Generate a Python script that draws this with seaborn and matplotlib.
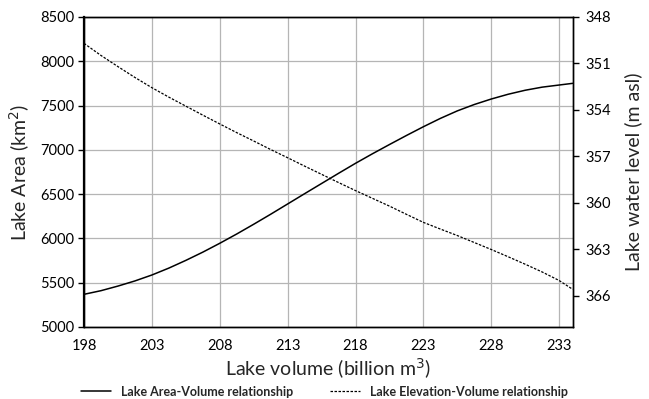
import matplotlib
matplotlib.use("Agg")
import matplotlib.pyplot as plt
import seaborn as sns
import pandas as pd
from matplotlib.lines import Line2D

volume = [198, 199.25, 200.5, 201.75, 203, 204.25, 205.5, 206.75, 208, 209.25, 210.5, 211.75,
          213, 214.25, 215.5, 216.75, 218, 219.25, 220.5, 221.75, 223, 224.25, 225.5, 226.75,
          228, 229.25, 230.5, 231.75, 233, 234]
area = [5369, 5410, 5462, 5520, 5587, 5665, 5752, 5845, 5945, 6050, 6160, 6273,
        6389, 6505, 6620, 6735, 6848, 6956, 7060, 7162, 7261, 7355, 7440, 7512,
        7574, 7628, 7673, 7708, 7732, 7751]
elevation = [349.7, 350.48, 351.2, 351.9, 352.56, 353.17, 353.75, 354.33, 354.9, 355.46, 356.0, 356.55,
             357.08, 357.62, 358.15, 358.68, 359.2, 359.7, 360.2, 360.73, 361.25, 361.68, 362.1, 362.55,
             363.0, 363.47, 363.95, 364.45, 365.0, 365.57]

xticks = [198, 203, 208, 213, 218, 223, 228, 233]
yticks_left = [5000, 5500, 6000, 6500, 7000, 7500, 8000, 8500]
yticks_right = [348, 351, 354, 357, 360, 363, 366]

sns.set_style("white")
plt.rcParams['font.family'] = ['Lato', 'DejaVu Sans']

df = pd.DataFrame({"volume": volume, "area": area, "elevation": elevation})

fig = plt.figure(figsize=(6.49, 3.99), dpi=100)
ax = fig.add_axes([84/649, 1 - 327/399, (572.7-84)/649, (327-17)/399])
ax2 = ax.twinx()

sns.lineplot(data=df, x="volume", y="area", ax=ax, color="black", linewidth=1.1)
sns.lineplot(data=df, x="volume", y="elevation", ax=ax2, color="black", linewidth=0.9,
             linestyle=(0, (2, 1.2)))

ax.set_xlim(198, 234)
ax.set_ylim(5000, 8500)
ax2.set_ylim(368, 348)
ax.set_xticks(xticks)
ax.set_yticks(yticks_left)
ax2.set_yticks(yticks_right)

ax.grid(True, color="#b5b5b5", linewidth=0.9)
ax.set_axisbelow(True)
ax2.grid(False)

for a in (ax, ax2):
    for s in a.spines.values():
        s.set_color("black")
        s.set_linewidth(1.0)
ax.spines['left'].set_linewidth(1.6)

ax.tick_params(axis='both', direction='out', length=4, width=1, labelsize=10.5, colors='black', pad=3)
ax2.tick_params(axis='y', direction='out', length=4, width=1, labelsize=10.5, colors='black', pad=5)
ax.tick_params(axis='x', pad=5)

ax.set_xlabel("Lake volume (billion m$^3$)", fontsize=14, labelpad=2)
ax.set_ylabel("Lake Area (km$^2$)", fontsize=14, labelpad=6)
ax2.set_ylabel("Lake water level (m asl)", fontsize=14, labelpad=10)

handles = [Line2D([], [], color="black", linewidth=1.1),
           Line2D([], [], color="black", linewidth=0.9, linestyle=(0, (2, 1.2)))]
labels = ["Lake Area-Volume relationship", "Lake Elevation-Volume relationship"]
fig.legend(handles, labels, loc="lower center", bbox_to_anchor=(0.5, -0.025), ncol=2,
           frameon=False, prop={'weight': 'bold', 'size': 9}, handlelength=2.4,
           columnspacing=3.0, handletextpad=0.8)

fig.savefig("out.png", dpi=100)
